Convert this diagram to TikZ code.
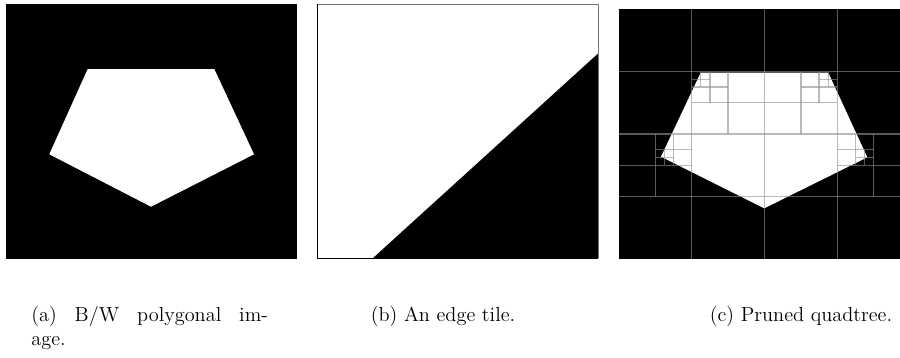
\documentclass[tikz,border=0pt]{standalone}
\begin{document}
\begin{tikzpicture}[x=0.6pt,y=-0.6pt,
  qline/.style={draw=black!43,opacity=0.62,line width=0.75pt},
  captext/.style={anchor=base,inner sep=0pt,font=\fontsize{12.2}{14.6}\selectfont}]
\useasboundingbox (0,0) rectangle (900,358);
% panel a
\fill[black] (6,4) rectangle (297,259);
\fill[white] (87.7,69) -- (214.3,69) -- (254,154.3) -- (151,206.7) -- (49.3,154.3) -- cycle;
% panel b
\fill[white] (317.3,4) rectangle (598.3,258.3);
\fill[black] (372.7,258.3) -- (598.3,53.3) -- (598.3,258.3) -- cycle;
\draw[black!55,line width=0.5pt] (317.3,4) -- (598.3,4) -- (598.3,258.3);
\draw[black,line width=0.9pt] (317.3,4) -- (317.3,258.3) -- (598.3,258.3);
% panel c
\begin{scope}
\clip (619,9) rectangle (900,259);
\fill[black] (619,9) rectangle (910,259);
\fill[white] (700.7,72.7) -- (828.3,72.7) -- (867.3,157.3) -- (764.3,208.3) -- (661,156.7) -- cycle;
% level 1-2 grid
\foreach \x in {691.75,764.5,837.25} \draw[qline] (\x,9) -- (\x,259);
\foreach \y in {71.5,134,196.5} \draw[qline] (619,\y) -- (910,\y);
% top middle cells
\draw[qline] (728.1,71.5) -- (728.1,134);
\draw[qline] (800.9,71.5) -- (800.9,134);
\draw[qline] (691.75,102.75) -- (837.25,102.75);
% top-left refinement
\draw[qline] (709.9,71.5) -- (709.9,102.75);
\draw[qline] (691.75,87.1) -- (728.1,87.1);
\draw[qline] (700.8,71.5) -- (700.8,87.1);
\draw[qline] (691.75,79.3) -- (709.9,79.3);
% top-right refinement
\draw[qline] (819.1,71.5) -- (819.1,102.75);
\draw[qline] (800.9,87.1) -- (837.25,87.1);
\draw[qline] (828.2,71.5) -- (828.2,87.1);
\draw[qline] (819.1,79.3) -- (837.25,79.3);
% left cell
\draw[qline] (655.4,134) -- (655.4,196.5);
\draw[qline] (619,165.25) -- (691.75,165.25);
\draw[qline] (673.6,134) -- (673.6,165.25);
\draw[qline] (655.4,149.6) -- (691.75,149.6);
\draw[qline] (664.5,149.6) -- (664.5,165.25);
\draw[qline] (655.4,157.4) -- (673.6,157.4);
% right cell
\draw[qline] (873.6,134) -- (873.6,196.5);
\draw[qline] (837.25,165.25) -- (910,165.25);
\draw[qline] (855.4,134) -- (855.4,165.25);
\draw[qline] (837.25,149.6) -- (873.6,149.6);
\draw[qline] (864.5,149.6) -- (864.5,165.25);
\draw[qline] (855.4,157.4) -- (873.6,157.4);
\end{scope}
% captions
\node[captext,anchor=base west] (capa1) at (31,321) {\makebox[142pt][s]{(a)\hfil B/W\hfil polygonal\hfil im-}};
\node[captext,anchor=base west] (capa2) at (31,345) {age.};
\node[captext] (capb) at (443,321) {(b) An edge tile.};
\node[captext] (capc) at (801,321) {(c) Pruned quadtree.};
\end{tikzpicture}
\end{document}
